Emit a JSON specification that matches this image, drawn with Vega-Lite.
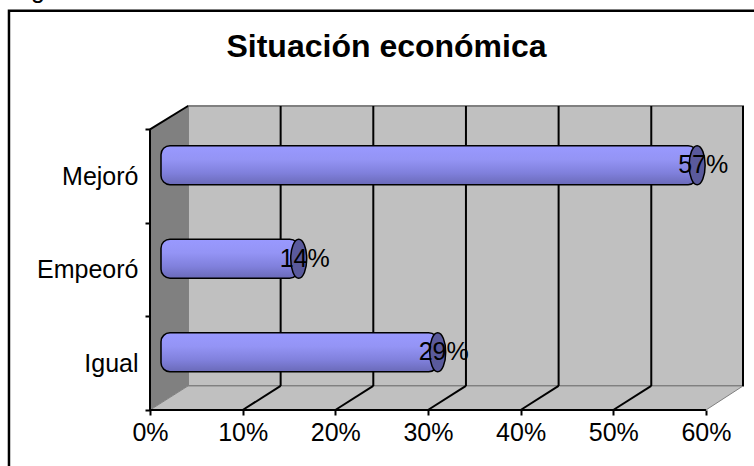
{"$schema":"https://vega.github.io/schema/vega-lite/v6.json","width":593,"height":304,"autosize":{"type":"none"},"padding":{"left":150,"top":106,"right":11,"bottom":56},"background":"#ffffff","view":{"stroke":null},"config":{"font":"Liberation Sans"},"title":{"text":"Situación económica","font":"Liberation Sans","fontSize":32,"fontWeight":"bold","color":"#000000","anchor":"middle","frame":"group","dx":-60,"offset":-86},"datasets":{"chart":[{"categoria":"Mejoró","inicio":0,"valor":0.57},{"categoria":"Empeoró","inicio":0,"valor":0.14},{"categoria":"Igual","inicio":0,"valor":0.29}],"frame":[{"x":-0.1522,"x2":0.66,"y":4.267,"y2":-0.7}],"fragment":[{"x":-0.121,"y":4.406,"t":"g"}],"wall":[{"x":0,"y":0,"y2":3},{"x":0.041,"y":0.257,"y2":3.25}],"floor":[{"x":0,"y":0,"y2":0},{"x":0.041,"y":0,"y2":0.257},{"x":0.6,"y":0,"y2":0.257},{"x":0.64,"y":0.257,"y2":0.257}],"back":[{"x":0.041,"x2":0.64,"y":0.257,"y2":3.25}],"grid":[{"x":0.141,"y":0.257,"y2":3.25},{"x":0.241,"y":0.257,"y2":3.25},{"x":0.341,"y":0.257,"y2":3.25},{"x":0.441,"y":0.257,"y2":3.25},{"x":0.541,"y":0.257,"y2":3.25},{"x":0.64,"y":0.257,"y2":3.25}],"floorlines":[{"x":0.1,"x2":0.141,"y":0,"y2":0.257},{"x":0.2,"x2":0.241,"y":0,"y2":0.257},{"x":0.3,"x2":0.341,"y":0,"y2":0.257},{"x":0.4,"x2":0.441,"y":0,"y2":0.257},{"x":0.5,"x2":0.541,"y":0,"y2":0.257}],"edges":[{"x":0,"x2":0,"y":0,"y2":3},{"x":0,"x2":0.041,"y":3,"y2":3.25},{"x":0,"x2":0.6,"y":0,"y2":0}]},"layer":[{"data":{"name":"back"},"mark":{"type":"rect","fill":"#C0C0C0","stroke":"#808080","strokeWidth":2},"encoding":{"x":{"field":"x","type":"quantitative","scale":{"domain":[0,0.64],"nice":false,"zero":false},"axis":{"values":[0,0.1,0.2,0.3,0.4,0.5,0.6],"format":".0%","grid":false,"domain":false,"tickColor":"#000000","tickSize":5,"tickWidth":2,"labelFontSize":25,"labelColor":"#000000","labelPadding":5,"labelFont":"Liberation Sans","title":null,"labelFlush":false,"labelOverlap":false}},"x2":{"field":"x2"},"y":{"field":"y","type":"quantitative","scale":{"domain":[0,3.25],"nice":false,"zero":false},"axis":null},"y2":{"field":"y2"}}},{"data":{"name":"wall"},"mark":{"type":"area","fill":"#808080","opacity":1,"interpolate":"linear"},"encoding":{"x":{"field":"x","type":"quantitative"},"y":{"field":"y","type":"quantitative","scale":{"domain":[0,3.25],"nice":false,"zero":false},"axis":null},"y2":{"field":"y2"}}},{"data":{"name":"floor"},"mark":{"type":"area","fill":"#C0C0C0","opacity":1,"interpolate":"linear","stroke":"#808080","strokeWidth":1},"encoding":{"x":{"field":"x","type":"quantitative"},"y":{"field":"y","type":"quantitative","scale":{"domain":[0,3.25],"nice":false,"zero":false},"axis":null},"y2":{"field":"y2"}}},{"data":{"name":"grid"},"mark":{"type":"rule","color":"#000000","strokeWidth":2},"encoding":{"x":{"field":"x","type":"quantitative"},"y":{"field":"y","type":"quantitative","scale":{"domain":[0,3.25],"nice":false,"zero":false},"axis":null},"y2":{"field":"y2"}}},{"data":{"name":"floorlines"},"mark":{"type":"rule","color":"#000000","strokeWidth":2},"encoding":{"x":{"field":"x","type":"quantitative"},"x2":{"field":"x2"},"y":{"field":"y","type":"quantitative","scale":{"domain":[0,3.25],"nice":false,"zero":false},"axis":null},"y2":{"field":"y2"}}},{"data":{"name":"edges"},"mark":{"type":"rule","color":"#000000","strokeWidth":2},"encoding":{"x":{"field":"x","type":"quantitative"},"x2":{"field":"x2"},"y":{"field":"y","type":"quantitative","scale":{"domain":[0,3.25],"nice":false,"zero":false},"axis":null},"y2":{"field":"y2"}}},{"data":{"name":"frame"},"mark":{"type":"rect","fill":null,"stroke":"#000000","strokeWidth":2.5},"encoding":{"x":{"field":"x","type":"quantitative"},"x2":{"field":"x2"},"y":{"field":"y","type":"quantitative","scale":{"domain":[0,3.25],"nice":false,"zero":false},"axis":null},"y2":{"field":"y2"}}},{"data":{"name":"fragment"},"mark":{"type":"text","fontSize":25,"font":"Liberation Sans","color":"#000000","align":"center","baseline":"alphabetic"},"encoding":{"x":{"field":"x","type":"quantitative"},"y":{"field":"y","type":"quantitative","scale":{"domain":[0,3.25],"nice":false,"zero":false},"axis":null},"text":{"field":"t"}}},{"data":{"name":"chart"},"mark":{"type":"bar","height":39,"yOffset":-11,"xOffset":11,"x2Offset":19,"cornerRadius":9,"stroke":"#000000","strokeWidth":1.5,"fill":{"gradient":"linear","x1":0,"y1":0,"x2":0,"y2":1,"stops":[{"offset":0,"color":"#9999FF"},{"offset":0.35,"color":"#9494F5"},{"offset":0.7,"color":"#8080DC"},{"offset":1,"color":"#6A6AB8"}]}},"encoding":{"x":{"field":"inicio","type":"quantitative"},"x2":{"field":"valor"},"y":{"field":"categoria","type":"nominal","sort":null,"scale":{"domain":["Mejoró","Empeoró","Igual"],"range":[23.4,304],"paddingInner":0,"paddingOuter":0},"axis":{"title":null,"domain":false,"ticks":true,"tickBand":"extent","tickColor":"#000000","tickSize":5,"tickWidth":2,"labelFontSize":25,"labelColor":"#000000","labelPadding":7,"labelFont":"Liberation Sans"}}}},{"data":{"name":"chart"},"mark":{"type":"point","filled":true,"fill":"#5A5A9C","stroke":"#000000","strokeWidth":1.5,"opacity":1,"size":1521,"xOffset":19,"yOffset":-11,"shape":"M0,-1C0.23,-1,0.41,-0.55,0.41,0C0.41,0.55,0.23,1,0,1C-0.23,1,-0.41,0.55,-0.41,0C-0.41,-0.55,-0.23,-1,0,-1Z"},"encoding":{"x":{"field":"valor","type":"quantitative"},"y":{"field":"categoria","type":"nominal","sort":null,"scale":{"domain":["Mejoró","Empeoró","Igual"],"range":[23.4,304],"paddingInner":0,"paddingOuter":0},"axis":null}}},{"data":{"name":"chart"},"mark":{"type":"text","fontSize":25,"font":"Liberation Sans","color":"#000000","align":"center","baseline":"middle","dx":25,"dy":-11},"encoding":{"x":{"field":"valor","type":"quantitative"},"y":{"field":"categoria","type":"nominal","sort":null,"scale":{"domain":["Mejoró","Empeoró","Igual"],"range":[23.4,304],"paddingInner":0,"paddingOuter":0},"axis":null},"text":{"field":"valor","type":"quantitative","format":".0%"}}}],"resolve":{"scale":{"y":"independent"}}}
